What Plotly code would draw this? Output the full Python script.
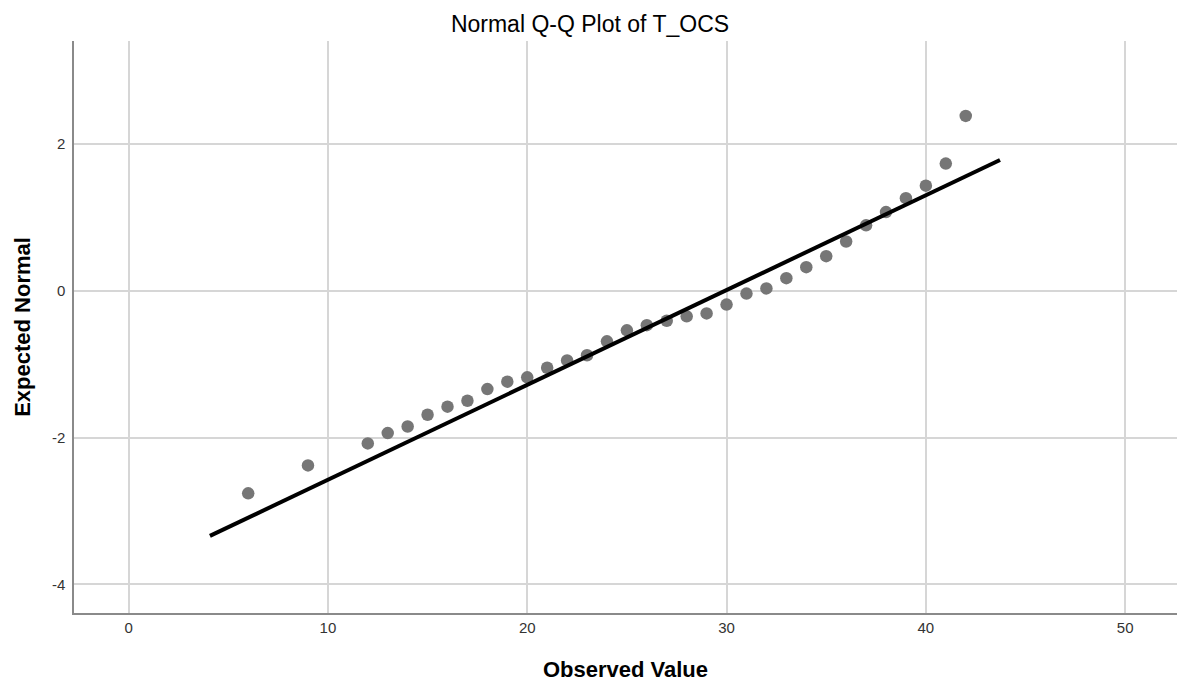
import plotly.graph_objects as go

observed = [6, 9, 12, 13, 14, 15, 16, 17, 18, 19, 20, 21, 22, 23, 24, 25, 26, 27, 28, 29,
            30, 31, 32, 33, 34, 35, 36, 37, 38, 39, 40, 41, 42]
expected = [-2.76, -2.38, -2.08, -1.94, -1.85, -1.69, -1.58, -1.50, -1.34, -1.24, -1.18,
            -1.05, -0.95, -0.88, -0.69, -0.54, -0.47, -0.41, -0.35, -0.31, -0.19, -0.04,
            0.03, 0.17, 0.32, 0.47, 0.67, 0.89, 1.07, 1.26, 1.43, 1.73, 2.38]
line_x = [4.08, 43.72]
line_y = [-3.34, 1.78]

x_ticks = [0, 10, 20, 30, 40, 50]
x_labels = ["0", "10", "20", "30", "40", "50"]
y_ticks = [-4, -2, 0, 2]
y_labels = ["-4", "-2", "0", "2"]

fig = go.Figure()
fig.add_trace(go.Scatter(x=observed, y=expected, mode="markers",
                         marker=dict(size=12.5, color="#767676"), showlegend=False))
fig.add_trace(go.Scatter(x=line_x, y=line_y, mode="lines",
                         line=dict(color="black", width=4), showlegend=False))

fig.update_layout(
    width=1180, height=682,
    margin=dict(l=74, r=3, t=41, b=69),
    paper_bgcolor="white", plot_bgcolor="white",
    font=dict(family="Arial, Liberation Sans, sans-serif", color="#222"),
    title=dict(text="Normal Q-Q Plot of T_OCS", x=0.5, xanchor="center",
               y=1 - 24 / 682, yanchor="middle",
               font=dict(size=23, color="black")),
)
fig.update_xaxes(range=[-2.74, 52.6], tickvals=x_ticks, ticktext=x_labels, showgrid=True,
                 gridcolor="#d6d6d6", gridwidth=1.5, zeroline=False,
                 showline=True, linecolor="#8a8a8a", linewidth=1.5,
                 ticks="", automargin=False, tickfont=dict(size=15, color="#333"),
                 title=dict(text="<b>Observed Value</b>", standoff=31,
                            font=dict(size=22, color="black")))
fig.update_yaxes(range=[-4.39, 3.40], tickvals=y_ticks, ticktext=y_labels, showgrid=True,
                 gridcolor="#d6d6d6", gridwidth=1.5, zeroline=False,
                 showline=True, linecolor="#8a8a8a", linewidth=1.5,
                 ticks="", automargin=False, ticklabelstandoff=4,
                 tickfont=dict(size=15, color="#333"),
                 title=dict(text="<b>Expected Normal</b>", standoff=15,
                            font=dict(size=22, color="black")))

fig.write_html("out.html", config={"displayModeBar": False},
               post_script="document.body.style.margin='0px';document.body.style.overflow='hidden';")
